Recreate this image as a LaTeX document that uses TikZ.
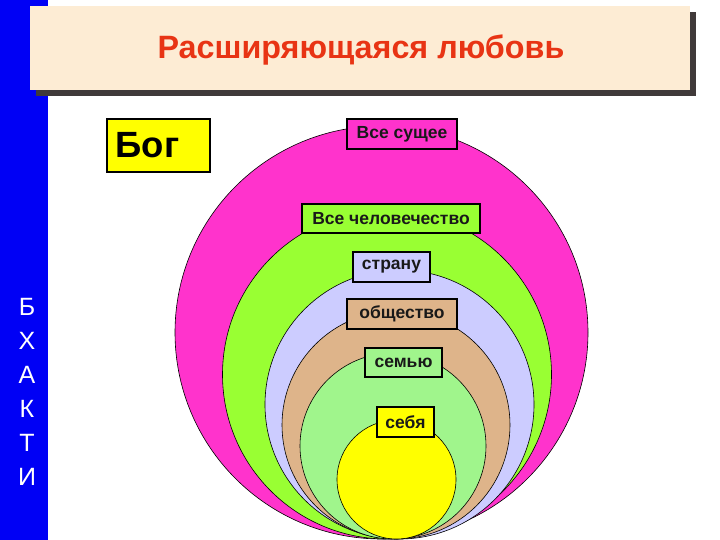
\documentclass[tikz,border=0pt]{standalone}
\usepackage{fontspec}
\setmainfont{Liberation Sans}
\usepackage{tikz}

\definecolor{barblue}{RGB}{0,0,245}
\definecolor{titlebg}{RGB}{253,236,212}
\definecolor{shadowgray}{RGB}{64,58,58}
\definecolor{titlered}{RGB}{232,52,20}
\definecolor{vsemagenta}{RGB}{255,51,204}
\definecolor{humangreen}{RGB}{153,255,51}
\definecolor{countrylav}{RGB}{204,204,255}
\definecolor{societytan}{RGB}{222,180,138}
\definecolor{familygreen}{RGB}{160,245,140}
\definecolor{selfyellow}{RGB}{255,255,0}

\tikzset{
    lbl/.style={draw=black, line width=1.6pt, inner sep=0pt,
        font=\fontsize{17.5}{20}\selectfont\bfseries, text=black!90},
    ring/.style={draw=black, line width=0.6pt}
}

\begin{document}
\begin{tikzpicture}[x=1pt, y=-1pt]

            \useasboundingbox (0,0) rectangle (720,540);
            \fill[white] (0,0) rectangle (720,540);

            % side bar
            \fill[barblue] (0,0) rectangle (48,540);
            \node[text=white, align=center, font=\fontsize{25}{34}\selectfont]
                (bhakti) at (27,392) {Б\\Х\\А\\К\\Т\\И};

            % title
            \fill[shadowgray] (36,12) rectangle (696,96);
            \fill[titlebg] (30,6) rectangle (690,90);
            \node[anchor=base, text=titlered, font=\fontsize{32.3}{36}\selectfont\bfseries]
                (title) at (361,59) {Расширяющаяся любовь};

            % circles, all touching at the bottom
            \draw[ring, fill=vsemagenta] (381.5,332.5) circle (206.5);
            \draw[ring, fill=humangreen] (387,374.5) circle (164.5);
            \draw[ring, fill=countrylav] (399.5,404.5) circle (134.5);
            \draw[ring, fill=societytan] (396,425) circle (114);
            \draw[ring, fill=familygreen] (393,446) circle (93);
            \draw[ring, fill=selfyellow] (396.5,479.5) circle (59.5);

            \node[lbl, fill=selfyellow, minimum width=103pt, minimum height=53pt,
                font=\fontsize{36.5}{40}\selectfont\bfseries, text=black,
                text width=86pt, align=left] (bog) at (158.5,145.5) {Бог};

            \node[lbl, fill=vsemagenta, minimum width=110pt, minimum height=30pt]
                (vse) at (402,134) {Все сущее};
            \node[lbl, fill=humangreen, minimum width=178pt, minimum height=29pt]
                (human) at (391,218.5) {Все человечество};
            \node[lbl, fill=countrylav, minimum width=77pt, minimum height=30pt]
                (strana) at (391.5,267) {страну};
            \node[lbl, fill=societytan, minimum width=110pt, minimum height=30pt]
                (society) at (402,314) {общество};
            \node[lbl, fill=familygreen, minimum width=77pt, minimum height=29pt]
                (family) at (403.5,362.5) {семью};
            \node[lbl, fill=selfyellow, minimum width=57pt, minimum height=30pt]
                (self) at (405.5,422) {себя};

\end{tikzpicture}
\end{document}
